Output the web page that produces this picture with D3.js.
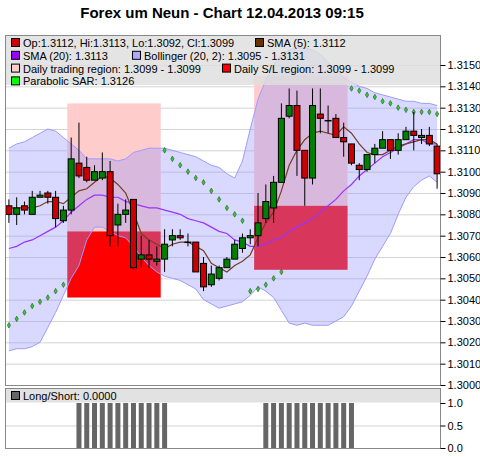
<!DOCTYPE html>
<html>
<head>
<meta charset="utf-8">
<script src="https://cdn.jsdelivr.net/npm/d3@7"></script>
<style>
  body { margin: 0; background: #fff; }
  svg { display: block; font-family: "Liberation Sans", Arial, sans-serif; }
</style>
</head>
<body>
<svg id="chart" width="480" height="457"></svg>
<script>
// Candles (15 min bars)
const opens  = [1.3084,1.3080,1.3084,1.3080,1.3088,1.3090,1.3088,1.3077,1.3082,1.3104,1.3102,1.3096,1.3097,1.3100,1.3075,1.3080,1.3087,1.3059,1.3061,1.3058,1.3059,1.3068,1.3070,1.3067,1.3067,1.3057,1.3047,1.3050,1.3055,1.3059,
                1.3064,1.3069,1.3070,1.3078,1.3083,1.3095,1.3126,1.3131,1.3110,1.3097,1.3127,1.3124,1.3125,1.3116,1.3113,1.3103,1.3101,1.3108,1.3111,1.3115,1.3110,1.3115,1.3119,1.3116,1.3117,1.3112];
const highs  = [1.3087,1.3088,1.3086,1.3091,1.3091,1.3091,1.3091,1.3084,1.3116,1.3123,1.3107,1.3103,1.3109,1.3105,1.3085,1.3087,1.3087,1.3070,1.3068,1.3065,1.3073,1.3073,1.3073,1.3071,1.3067,1.3060,1.3056,1.3056,1.3060,1.3068,
                1.3071,1.3073,1.3090,1.3094,1.3098,1.3132,1.3139,1.3138,1.3110,1.3139,1.3139,1.3131,1.3127,1.3123,1.3113,1.3104,1.3108,1.3113,1.3119,1.3115,1.3118,1.3121,1.3128,1.3120,1.3121,1.3113];
const lows   = [1.3076,1.3075,1.3080,1.3080,1.3088,1.3085,1.3074,1.3076,1.3080,1.3097,1.3095,1.3096,1.3096,1.3065,1.3065,1.3076,1.3054,1.3055,1.3055,1.3056,1.3053,1.3065,1.3068,1.3065,1.3053,1.3044,1.3046,1.3049,1.3055,1.3059,
                1.3062,1.3066,1.3065,1.3076,1.3076,1.3095,1.3125,1.3098,1.3084,1.3094,1.3118,1.3118,1.3116,1.3107,1.3103,1.3096,1.3100,1.3104,1.3111,1.3106,1.3108,1.3115,1.3110,1.3113,1.3112,1.3092];
const closes = [1.3080,1.3083,1.3082,1.3088,1.3089,1.3088,1.3078,1.3082,1.3106,1.3098,1.3096,1.3100,1.3100,1.3070,1.3080,1.3082,1.3055,1.3061,1.3059,1.3059,1.3066,1.3070,1.3069,1.3067,1.3053,1.3046,1.3052,1.3055,1.3059,1.3066,
                1.3069,1.3070,1.3076,1.3086,1.3095,1.3125,1.3131,1.3110,1.3097,1.3131,1.3125,1.3124,1.3116,1.3114,1.3104,1.3101,1.3108,1.3111,1.3115,1.3110,1.3115,1.3119,1.3117,1.3117,1.3113,1.3099];

// Indicators
const sma5   = [1.3083,1.3083,1.3083,1.3083,1.3084,1.3086,1.3086,1.3085,1.3088,1.3091,1.3092,1.3095,1.3098,1.3097,1.3094,1.3090,1.3081,1.3071,1.3068,1.3066,1.3064,1.3066,1.3067,1.3067,1.3065,1.3063,1.3057,1.3055,1.3053,1.3056,
                1.3058,1.3061,1.3069,1.3076,1.3081,1.3091,1.3103,1.3110,1.3115,1.3118,1.3119,1.3118,1.3117,1.3121,1.3118,1.3113,1.3109,1.3108,1.3108,1.3110,1.3112,1.3113,1.3114,1.3115,1.3115,1.3113];
const sma20  = [1.3064,1.3065,1.3067,1.3068,1.3070,1.3072,1.3074,1.3077,1.3081,1.3084,1.3087,1.3089,1.3089,1.3088,1.3088,1.3086,1.3085,1.3084,1.3083,1.3083,1.3082,1.3081,1.3080,1.3078,1.3077,1.3076,1.3074,1.3072,1.3071,1.3068,
                1.3067,1.3065,1.3065,1.3066,1.3068,1.3069,1.3072,1.3074,1.3076,1.3078,1.3081,1.3084,1.3087,1.3091,1.3094,1.3098,1.3101,1.3104,1.3107,1.3109,1.3111,1.3113,1.3115,1.3115,1.3113,1.3113];
const bbUpper = [1.3111,1.3113,1.3114,1.3116,1.3118,1.3120,1.3119,1.3116,1.3113,1.3110,1.3106,1.3106,1.3106,1.3106,1.3105,1.3106,1.3109,1.3110,1.3111,1.3111,1.3111,1.3110,1.3109,1.3108,1.3107,1.3105,1.3103,1.3102,1.3099,1.3097,
                 1.3105,1.3120,1.3134,1.3143,1.3150,1.3155,1.3157,1.3158,1.3158,1.3157,1.3155,1.3151,1.3148,1.3144,1.3142,1.3140,1.3139,1.3137,1.3136,1.3135,1.3134,1.3133,1.3133,1.3132,1.3132,1.3131];
const bbLower = [1.3016,1.3017,1.3017,1.3018,1.3020,1.3027,1.3034,1.3042,1.3050,1.3056,1.3068,1.3074,1.3074,1.3072,1.3070,1.3069,1.3065,1.3060,1.3056,1.3053,1.3051,1.3050,1.3049,1.3047,1.3045,1.3040,1.3038,1.3036,1.3037,1.3038,
                 1.3039,1.3042,1.3046,1.3044,1.3041,1.3035,1.3029,1.3028,1.3029,1.3028,1.3028,1.3028,1.3030,1.3032,1.3037,1.3044,1.3051,1.3059,1.3065,1.3071,1.3080,1.3088,1.3093,1.3096,1.3098,1.3095];
const sar = [1.3028,1.3031,1.3034,1.3037,1.3039,1.3041,1.3044,1.3047,null,null,null,null,null,null,null,null,null,null,null,null,
             1.3110,1.3106,1.3103,1.3100,1.3097,1.3095,1.3091,1.3087,1.3083,1.3080,1.3077,1.3044,1.3045,1.3047,1.3050,1.3053,
             null,null,null,null,null,null,null,null,
             1.3139,1.3138,1.3136,1.3135,1.3133,1.3132,1.3130,1.3129,1.3128,1.3128,1.3128,1.3127];
const longShort = [0,0,0,0,0,0,0,0,0,1,1,1,1,1,1,1,1,1,1,1,1,0,0,0,0,0,0,0,0,0,
                   0,0,0,1,1,1,1,1,1,1,1,1,1,1,1,0,0,0,0,0,0,0,0,0,0,0];

// Daily regions
const regionFrom = [8, 32];
const regionTo   = [19, 43];
const tradeHigh  = [1.3132, 1.3145];
const tradeLow   = [1.3072, 1.3084];
const slHigh     = [1.3072, 1.3084];
const slLow      = [1.3041, 1.3054];

const priceTicks = [1.3000,1.3010,1.3020,1.3030,1.3040,1.3050,1.3060,1.3070,1.3080,1.3090,1.3100,1.3110,1.3120,1.3130,1.3140,1.3150];
const lsTicks = [0, 0.5, 1];

const legendRows = [
  [{ c: '#cc0000', t: 'Op:1.3112, Hi:1.3113, Lo:1.3092, Cl:1.3099', x: 11 }, { c: '#663300', t: 'SMA (5): 1.3112', x: 255 }],
  [{ c: '#9900ff', t: 'SMA (20): 1.3113', x: 11 }, { c: '#aaaaff', t: 'Bollinger (20, 2): 1.3095 - 1.3131', x: 132 }],
  [{ c: '#ffcccc', t: 'Daily trading region: 1.3099 - 1.3099', x: 11 }, { c: '#ff0000', t: 'Daily S/L region: 1.3099 - 1.3099', x: 222 }],
  [{ c: '#00ff00', t: 'Parabolic SAR: 1.3126', x: 11 }]
];

const svg = d3.select('#chart');
const plot = { l: 5, r: 440, t: 35, b: 385 };
const lower = { t: 388, b: 449 };
const idx = d3.range(closes.length);

const x = d3.scaleBand().domain(idx).range([5, 441]).padding(0);
const cx = i => x(i) + x.bandwidth() / 2;
const y = d3.scaleLinear().domain([1.3000, 1.3150]).range([385, 65]);
const yl = d3.scaleLinear().domain([0, 1]).range([448, 403]);

svg.append('text')
  .attr('x', 222).attr('y', 18)
  .attr('text-anchor', 'middle')
  .style('font-size', '15px').style('font-weight', 'bold')
  .text('Forex um Neun - Chart 12.04.2013 09:15');

svg.append('defs').append('clipPath').attr('id', 'clip')
  .append('rect').attr('x', plot.l).attr('y', plot.t).attr('width', plot.r - plot.l).attr('height', plot.b - plot.t);

// Grid
svg.append('g')
  .attr('transform', `translate(${plot.l},0)`)
  .call(d3.axisLeft(y).tickValues(priceTicks).tickSize(-(plot.r - plot.l)).tickFormat(''))
  .call(g => g.select('.domain').remove())
  .selectAll('line').attr('stroke', '#d4d4d4');

const g = svg.append('g').attr('clip-path', 'url(#clip)');

// Regions
regionFrom.forEach((f, k) => {
  const x0 = x(f), x1 = x(regionTo[k]) + x.bandwidth();
  g.append('rect').attr('x', x0).attr('width', x1 - x0)
    .attr('y', y(tradeHigh[k])).attr('height', y(tradeLow[k]) - y(tradeHigh[k]))
    .attr('fill', '#ffcccc');
  g.append('rect').attr('x', x0).attr('width', x1 - x0)
    .attr('y', y(slHigh[k])).attr('height', y(slLow[k]) - y(slHigh[k]))
    .attr('fill', '#ff0000');
});

// Bollinger band
g.append('path').datum(idx)
  .attr('d', d3.area().x(cx).y0(i => y(bbLower[i])).y1(i => y(bbUpper[i])))
  .attr('fill', 'rgb(150,150,255)').attr('fill-opacity', 0.36);
[bbUpper, bbLower].forEach(arr => {
  g.append('path').datum(idx)
    .attr('d', d3.line().x(cx).y(i => y(arr[i])))
    .attr('fill', 'none').attr('stroke', '#9c9cff').attr('stroke-width', 1);
});

// SAR
g.selectAll('.sar').data(idx.filter(i => sar[i] !== null)).join('path')
  .attr('d', d3.symbol(d3.symbolDiamond, 9))
  .attr('transform', i => `translate(${cx(i)},${y(sar[i])})`)
  .attr('fill', '#33cc33').attr('stroke', '#225522').attr('stroke-width', 0.6);

// Moving averages
g.append('path').datum(idx)
  .attr('d', d3.line().x(cx).y(i => y(sma20[i])))
  .attr('fill', 'none').attr('stroke', '#9933ff').attr('stroke-width', 1.2);
g.append('path').datum(idx)
  .attr('d', d3.line().x(cx).y(i => y(sma5[i])))
  .attr('fill', 'none').attr('stroke', '#6e4020').attr('stroke-width', 1.2);

// Candles
const c = g.selectAll('.candle').data(idx).join('g');
c.append('line')
  .attr('x1', cx).attr('x2', cx)
  .attr('y1', i => y(highs[i])).attr('y2', i => y(lows[i]))
  .attr('stroke', '#000');
c.append('rect')
  .attr('x', i => cx(i) - 3).attr('width', 6)
  .attr('y', i => y(Math.max(opens[i], closes[i])))
  .attr('height', i => Math.max(0.5, Math.abs(y(opens[i]) - y(closes[i]))))
  .attr('fill', i => closes[i] > opens[i] ? '#008000' : '#cc0000')
  .attr('stroke', '#000').attr('stroke-width', 1);

// Legend box
svg.append('rect').attr('x', plot.l).attr('y', plot.t).attr('width', plot.r - plot.l).attr('height', 50)
  .attr('fill', 'rgb(222,222,222)').attr('fill-opacity', 0.82);
legendRows.forEach((row, r) => {
  const yy = 43 + r * 12.8;
  row.forEach(it => {
    svg.append('rect').attr('x', it.x + 0.5).attr('y', yy - 4.5).attr('width', 8).attr('height', 8)
      .attr('fill', it.c).attr('stroke', '#000').attr('stroke-width', 1);
    svg.append('text').attr('x', it.x + 12).attr('y', yy + 4)
      .style('font-size', '11px').attr('fill', '#000').text(it.t);
  });
});

// Main frame and axis
svg.append('rect').attr('x', plot.l + 0.5).attr('y', plot.t + 0.5)
  .attr('width', plot.r - plot.l).attr('height', plot.b - plot.t)
  .attr('fill', 'none').attr('stroke', '#888');
svg.append('g').attr('transform', `translate(${plot.r + 0.5},0)`)
  .call(d3.axisRight(y).tickValues(priceTicks).tickSize(5).tickPadding(2).tickFormat(d3.format('.4f')))
  .call(a => a.select('.domain').remove())
  .call(a => a.selectAll('text').style('font-size', '11px').style('font-family', '"Liberation Sans", Arial, sans-serif'));

// Lower panel
svg.append('g')
  .attr('transform', `translate(${plot.l},0)`)
  .call(d3.axisLeft(yl).tickValues([0.5]).tickSize(-(plot.r - plot.l)).tickFormat(''))
  .call(a => a.select('.domain').remove())
  .selectAll('line').attr('stroke', '#d4d4d4');
svg.selectAll('.ls').data(idx.filter(i => longShort[i] > 0)).join('rect')
  .attr('x', i => cx(i) - 2.5).attr('width', 5)
  .attr('y', i => yl(longShort[i])).attr('height', i => yl(0) - yl(longShort[i]))
  .attr('fill', '#666');
svg.append('rect').attr('x', plot.l + 0.5).attr('y', lower.t + 0.5).attr('width', plot.r - plot.l).attr('height', 14)
  .attr('fill', '#e2e2e2');
svg.append('rect').attr('x', 11.5).attr('y', 391.5).attr('width', 8).attr('height', 8)
  .attr('fill', '#666').attr('stroke', '#000');
svg.append('text').attr('x', 23).attr('y', 400).style('font-size', '11px').text('Long/Short: 0.0000');
svg.append('rect').attr('x', plot.l + 0.5).attr('y', lower.t + 0.5)
  .attr('width', plot.r - plot.l).attr('height', lower.b - lower.t - 1)
  .attr('fill', 'none').attr('stroke', '#888');
svg.append('g').attr('transform', `translate(${plot.r + 0.5},0)`)
  .call(d3.axisRight(yl).tickValues(lsTicks).tickSize(5).tickPadding(2).tickFormat(d3.format('.1f')))
  .call(a => a.select('.domain').remove())
  .call(a => a.selectAll('text').style('font-size', '11px').style('font-family', '"Liberation Sans", Arial, sans-serif'));
</script>
</body>
</html>
